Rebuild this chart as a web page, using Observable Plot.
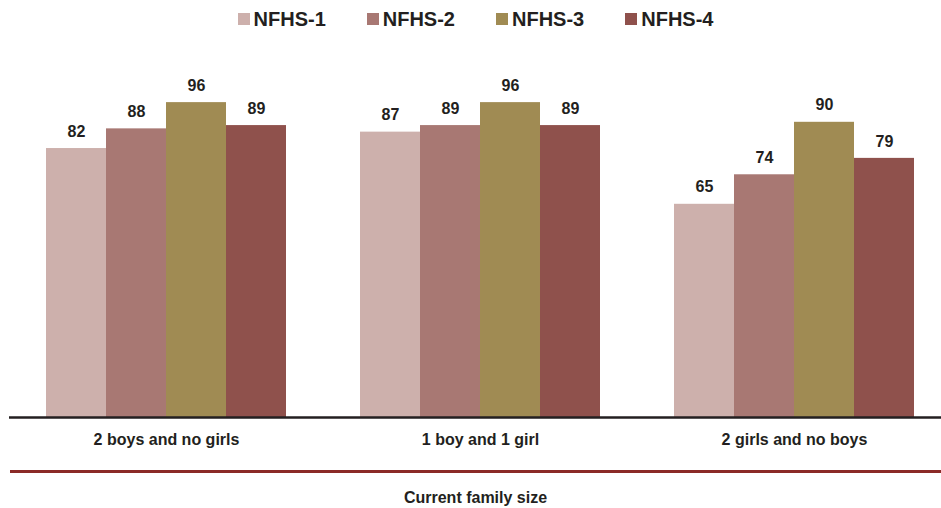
<!DOCTYPE html>
<html>
<head>
<meta charset="utf-8">
<script src="https://cdn.jsdelivr.net/npm/d3@7"></script>
<script src="https://cdn.jsdelivr.net/npm/@observablehq/plot@0.6"></script>
<style>
  html, body { margin: 0; padding: 0; background: #fff; }
  body { width: 941px; height: 508px; overflow: hidden; font-family: "Liberation Sans", Arial, sans-serif; }
  #legend { height: 38px; display: flex; justify-content: center; align-items: center; gap: 0; padding-left: 10px; box-sizing: border-box; }
  .item { display: flex; align-items: center; font-weight: bold; font-size: 20px; color: #231f20; margin: 0 20.5px; }
  .sw { width: 12px; height: 12px; margin-right: 4px; }
  #chart svg { display: block; overflow: visible; }
  #redline { margin-left: 10px; margin-top: 2px; height: 2.5px; background: #8b2a28; }
  #caption { text-align: center; font-weight: bold; font-size: 16px; color: #231f20; margin-top: 16px; padding-left: 10px; }
</style>
</head>
<body>
<div id="legend"></div>
<div id="chart"></div>
<div id="redline"></div>
<div id="caption">Current family size</div>
<script>
const categories = ["2 boys and no girls", "1 boy and 1 girl", "2 girls and no boys"];
const series = ["NFHS-1", "NFHS-2", "NFHS-3", "NFHS-4"];
const colors = ["#cdb0ac", "#a87873", "#a08b53", "#8f514c"];
const nfhs1 = [82, 87, 65];
const nfhs2 = [88, 89, 74];
const nfhs3 = [96, 96, 90];
const nfhs4 = [89, 89, 79];

const valuesBySeries = [nfhs1, nfhs2, nfhs3, nfhs4];
const data = [];
categories.forEach((c, i) => {
  series.forEach((s, j) => data.push({category: c, series: s, value: valuesBySeries[j][i]}));
});

const legend = document.getElementById("legend");
series.forEach((s, j) => {
  const it = document.createElement("div");
  it.className = "item";
  it.innerHTML = `<span class="sw" style="background:${colors[j]}"></span>${s}`;
  legend.appendChild(it);
});

const chart = Plot.plot({
  width: 941,
  height: 430,
  marginLeft: 10,
  marginRight: 0,
  marginTop: 51,
  marginBottom: 51,
  style: {fontFamily: "Liberation Sans, Arial, sans-serif", fontSize: "15px", fontWeight: "bold", color: "#231f20", background: "#fff", overflow: "visible"},
  fx: {domain: categories, range: [9, 950], paddingInner: 0.236, paddingOuter: 0.114, label: null, axis: null},
  x: {domain: series, padding: 0, axis: null},
  y: {domain: [0, 100], axis: null},
  color: {domain: series, range: colors},
  facet: {data: data, x: "category"},
  marks: [
    Plot.barY(data, {x: "series", y: "value", fill: "series"}),
    Plot.text(data, {x: "series", y: "value", text: d => String(d.value), dy: -17, fontSize: 16, fontWeight: "bold", fill: "#231f20"}),
    Plot.ruleY([0], {stroke: "#231f20", strokeWidth: 2.5, insetLeft: -37, insetRight: -37}),
    Plot.axisFx({anchor: "bottom", tickSize: 0, tickPadding: 16, fontSize: 16, fontWeight: "bold", fill: "#231f20", label: null})
  ]
});
document.getElementById("chart").appendChild(chart);
</script>
</body>
</html>
